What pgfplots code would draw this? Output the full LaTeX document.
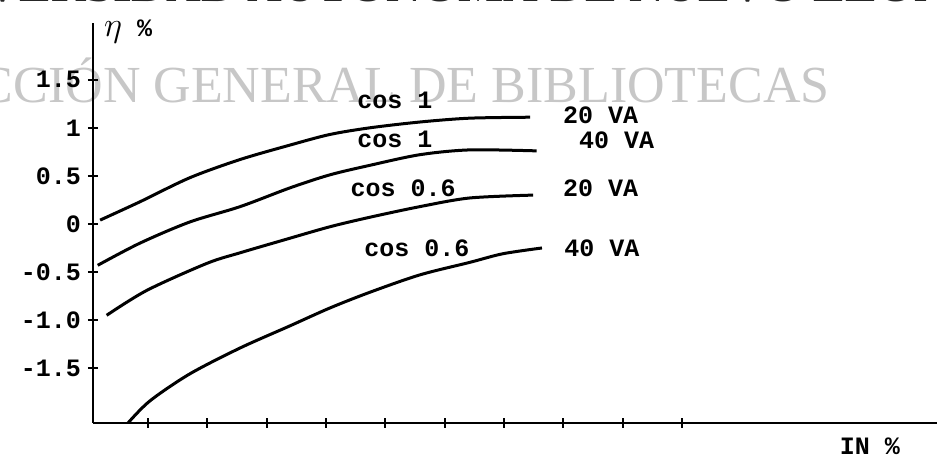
\documentclass[border=0pt]{standalone}
\usepackage{fontspec}
\setmainfont{Liberation Serif}
\newfontfamily\tw{Liberation Mono}
\usepackage{pgfplots}
\pgfplotsset{compat=1.18}
\begin{document}
\begin{tikzpicture}[x=1pt,y=1pt]
\useasboundingbox (0,0) rectangle (469.5,229);
\node[anchor=base east, text=black!22, font=\fontsize{26}{26}\selectfont, inner sep=0] at (415,177.5) {CCIÓN GENERAL DE BIBLIOTECAS};
\node[anchor=base east, text=black!85, font=\fontsize{24}{24}\selectfont\bfseries, inner sep=0] at (475,228.3) {UNIVERSIDAD AUTÓNOMA DE NUEVO LEÓN};
\begin{axis}[
  at={(46.5pt,17.5pt)}, anchor=south west,
  scale only axis, width=422pt, height=200pt,
  xmin=0.07, xmax=14.3, ymin=-2.07, ymax=2.09,
  axis lines=left, axis line style={line width=1.4pt,-},
  xtick={1,...,10}, xticklabels={},
  ytick={-1.5,-1,-0.5,0,0.5,1,1.5},
  yticklabels={-1.5,-1.0,-0.5,0,0.5,1,1.5},
  tick align=center, major tick length=5pt,
  tick style={line width=1pt, black},
  yticklabel style={font=\tw\bfseries\fontsize{12.5}{12.5}\selectfont},
  clip=false,
]
\addplot[black, line width=1.5pt, smooth] coordinates {
(0.19,0.04) (0.86,0.23) (1.70,0.48) (2.55,0.67) (3.39,0.82) (4.06,0.93) (4.74,1.00) (5.58,1.06) (6.42,1.10) (7.44,1.11)};
\addplot[black, line width=1.5pt, smooth] coordinates {
(0.15,-0.43) (0.86,-0.20) (1.70,0.02) (2.55,0.18) (3.39,0.375) (4.06,0.51) (4.74,0.61) (5.58,0.72) (6.42,0.77) (7.55,0.76)};
\addplot[black, line width=1.5pt, smooth] coordinates {
(0.30,-0.95) (0.98,-0.69) (1.99,-0.41) (2.55,-0.30) (3.27,-0.17) (4.06,-0.03) (4.74,0.07) (5.58,0.18) (6.42,0.27) (7.49,0.30)};
\addplot[black, line width=1.5pt, smooth] coordinates {
(0.66,-2.07) (1.03,-1.84) (1.70,-1.56) (2.55,-1.29) (3.39,-1.06) (4.06,-0.875) (4.74,-0.71) (5.58,-0.53) (6.42,-0.40) (6.98,-0.31) (7.64,-0.25)};
\tikzset{lab/.style={font=\tw\bfseries\fontsize{12.5}{12.5}\selectfont, inner sep=0}}
\node[lab] at (axis cs:5.16,1.29) {cos 1};
\node[lab] at (axis cs:8.63,1.135) {20 VA};
\node[lab] at (axis cs:5.16,0.875) {cos 1};
\node[lab] at (axis cs:8.90,0.875) {40 VA};
\node[lab] at (axis cs:5.30,0.375) {cos 0.6};
\node[lab] at (axis cs:8.63,0.375) {20 VA};
\node[lab] at (axis cs:5.53,-0.25) {cos 0.6};
\node[lab] at (axis cs:8.65,-0.25) {40 VA};
\node[lab, anchor=west] at (axis cs:0.25,2.0) {{\fontsize{17}{17}\selectfont$\eta$} \%};
\node[lab] at (axis cs:13.17,-2.31) {IN \%};
\end{axis}
\end{tikzpicture}
\end{document}
